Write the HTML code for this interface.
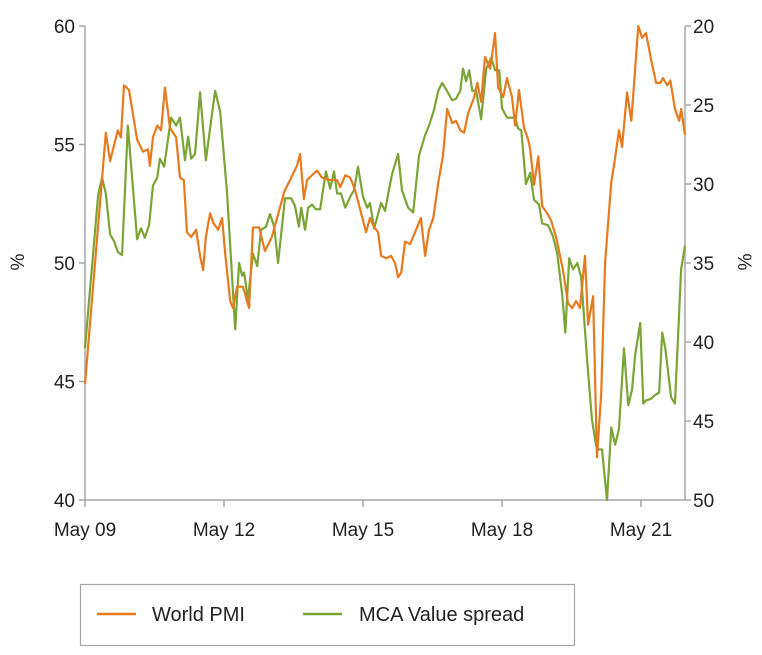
<!DOCTYPE html>
<html><head><meta charset="utf-8"><style>
body{margin:0;background:#fff;}
svg{display:block;font-family:"Liberation Sans",sans-serif;}
</style></head><body>
<svg id="chart" width="762" height="655"></svg>
<script>
const pmiMonths=[0,5.4,6.5,8.5,9.3,10.1,11.4,13.5,15,16.3,16.8,17.6,18.7,19.7,20.7,22,23.6,24.6,25.6,26.4,27.5,28.8,29.8,30.6,31.3,32.4,33.2,34.5,35.5,36.3,37.6,38.3,39.4,40.9,42.5,43.5,45.1,46.6,48.4,51.6,54.9,55.7,56.7,57.5,60.1,61.4,63.5,65.3,66.1,67.4,68.7,69.9,71.2,72.8,73.8,74.9,75.9,76.7,78,79.3,80.3,81.1,81.9,82.9,84.2,85.5,87,88.1,89.1,90.2,91.5,92.7,93.8,95.1,96.1,97.2,98.2,99.2,100.8,101.6,102.6,103.6,104.9,105.4,106.2,107,108.3,109.3,110.6,111.4,112.4,113.7,114.8,115.3,116.3,117.4,118.4,119.7,120.7,122,123.8,125.1,126.2,127.2,128.2,129.5,130.3,131.6,132.6,133.7,134.7,136.3,137,138.3,139.1,140.4,141.5,143.3,144.3,145.3,146.6,147.9,149,149.7,150.8,151.6,152.8,153.9,154.4,155.4];
const pmiValues=[44.9,55.5,54.3,55.6,55.3,57.5,57.3,55.2,54.7,54.8,54.1,55.3,55.8,55.6,57.4,55.7,55.3,53.6,53.5,51.3,51.1,51.4,50.3,49.7,51.1,52.1,51.7,51.4,51.9,50.4,48.4,48.1,49.0,49.0,48.1,51.5,51.5,50.5,51.1,53.0,54.1,54.6,52.7,53.5,53.9,53.6,53.5,53.5,53.2,53.7,53.6,53.1,52.3,51.3,51.9,51.5,51.3,50.3,50.2,50.3,50.0,49.4,49.6,50.9,50.8,51.3,51.9,50.3,51.4,51.9,53.4,54.5,56.5,55.9,56.0,55.6,55.5,56.3,57.0,57.6,56.8,58.7,58.2,58.7,59.7,57.4,57.0,57.8,57.0,55.8,57.3,55.7,55.2,54.8,53.3,54.5,52.4,52.1,51.8,51.1,49.7,48.3,48.1,48.4,48.1,50.3,47.4,48.6,41.8,44.5,50.0,53.4,54.1,55.6,54.9,57.2,56.0,60.0,59.5,59.7,58.6,57.6,57.6,57.8,57.5,57.7,56.5,56.0,56.5,55.4];
const spreadMonths=[0,3.4,4.4,5.4,6.5,7.5,8.5,9.6,11.1,13.5,14.5,15.5,16.6,17.6,18.7,19.4,20.5,22.3,23.6,24.6,25.9,26.7,27.5,28.5,29.8,31.3,33.7,35,36.8,38.9,39.9,40.7,41.2,42.2,43.5,44.6,45.6,46.9,47.9,49,50,51.8,53.4,54.4,55.4,56,57,57.8,58.8,59.8,60.9,62.4,63.5,64.5,65.3,66.3,67.4,68.9,69.7,70.7,72,73.1,73.8,74.9,76.7,77.7,79.5,81.1,82.1,83.7,85,86.5,88.1,89.1,90.4,91.5,92.5,93.5,95.1,96.1,97.2,97.9,98.7,99.5,100.3,101.3,102.6,103.9,105.2,106.2,107.3,108,109.3,111.4,112.2,113,114.2,115.3,116.3,117.6,118.4,119.9,121.2,122.3,123.6,124.4,125.4,126.4,127.5,128.5,130.1,131.3,132.4,132.9,133.9,135.2,136.3,137.3,138.3,139.6,140.7,141.7,142.5,143.8,144.6,145.3,146.6,147.4,148.7,149.5,150.3,151.8,152.8,154.4,155.4];
const spreadValues=[40.4,30.7,29.6,30.6,33.2,33.6,34.3,34.5,26.3,33.5,32.8,33.4,32.6,30.1,29.6,28.4,28.9,25.8,26.3,25.8,28.5,27.0,28.4,28.1,24.2,28.5,24.1,25.4,30.6,39.2,35.0,35.8,35.6,37.3,34.4,35.2,32.9,32.7,31.9,32.7,35.0,30.9,30.9,31.4,32.7,31.5,32.9,31.5,31.3,31.6,31.6,29.2,30.3,29.2,30.6,30.6,31.5,30.7,30.4,28.9,30.8,31.5,31.2,32.8,31.2,31.7,29.4,28.1,30.4,31.5,31.8,28.2,26.9,26.3,25.3,24.1,23.6,24.0,24.7,24.6,24.1,22.7,23.5,22.8,24.1,24.1,25.9,22.7,22.0,22.8,22.8,25.2,25.8,25.8,26.5,26.6,30.0,29.3,31.0,31.3,32.5,32.6,33.3,34.4,37.0,39.4,34.7,35.4,35.0,35.9,41.3,44.9,46.6,46.8,46.8,50.0,45.4,46.5,45.5,40.4,44.0,43.0,40.8,38.8,43.9,43.7,43.6,43.4,43.2,39.4,40.4,43.5,43.9,35.4,33.9];
const leftTicks=[40,45,50,55,60];
const rightTicks=[20,25,30,35,40,45,50];
const xTickLabels=["May 09","May 12","May 15","May 18","May 21"];
const xTickMonths=[0,36,72,108,144];

const NS="http://www.w3.org/2000/svg";
const svg=document.getElementById('chart');
const L=85,R=685,T=26,B=500;
const xS=m=>L+m*(R-L)/155.4;
const yL=v=>B-(v-40)*(B-T)/20;
const yR=v=>T+(v-20)*(B-T)/30;
function mk(tag,attrs,parent){const e=document.createElementNS(NS,tag);for(const k in attrs)e.setAttribute(k,attrs[k]);(parent||svg).appendChild(e);return e;}
const axisC="#a6a6a6",txtC="#222";
let e;
e=mk('line',{x1:L,y1:T,x2:L,y2:B,stroke:axisC,'stroke-width':1.5});


e=mk('line',{x1:R,y1:T,x2:R,y2:B,stroke:axisC,'stroke-width':1.5});


e=mk('line',{x1:L,y1:B,x2:R,y2:B,stroke:axisC,'stroke-width':1.5});


leftTicks.forEach(v=>{
  mk('line',{x1:L-6,y1:yL(v),x2:L,y2:yL(v),stroke:axisC,'stroke-width':1.5});
  const t=mk('text',{x:L-10,y:yL(v)+7,'text-anchor':'end','font-size':19,fill:txtC});
  t.textContent=v;
  
  
});
rightTicks.forEach(v=>{
  mk('line',{x1:R,y1:yR(v),x2:R+6,y2:yR(v),stroke:axisC,'stroke-width':1.5});
  const t=mk('text',{x:R+8,y:yR(v)+7,'font-size':19,fill:txtC});
  t.textContent=v;
  
  
});
xTickMonths.forEach((m,i)=>{
  mk('line',{x1:xS(m),y1:B,x2:xS(m),y2:B+7,stroke:axisC,'stroke-width':1.5});
  const t=mk('text',{x:xS(m),y:B+36,'text-anchor':'middle','font-size':19,fill:txtC});
  t.textContent=xTickLabels[i];
  
  
});
e=mk('text',{x:0,y:0,'font-size':19,fill:txtC,'text-anchor':'middle',transform:'translate(24,262) rotate(-90)'});
e.textContent='%';


e=mk('text',{x:0,y:0,'font-size':19,fill:txtC,'text-anchor':'middle',transform:'translate(738,262) rotate(90)'});
e.textContent='%';



e=mk('polyline',{points:spreadMonths.map((m,i)=>xS(m)+','+yR(spreadValues[i])).join(' '),fill:'none',stroke:'#7aa535','stroke-width':2.2,'stroke-linejoin':'round'});


e=mk('polyline',{points:pmiMonths.map((m,i)=>xS(m)+','+yL(pmiValues[i])).join(' '),fill:'none',stroke:'#e87a1e','stroke-width':2.2,'stroke-linejoin':'round'});



const lg=mk('g',{});


mk('rect',{x:80.5,y:584.5,width:494,height:61,fill:'#fff',stroke:'#a6a6a6','stroke-width':1.2},lg);
e=mk('line',{x1:97,y1:614,x2:136,y2:614,stroke:'#e87a1e','stroke-width':2.5},lg);


e=mk('text',{x:152,y:621,'font-size':20,fill:txtC},lg);
e.textContent='World PMI';


e=mk('line',{x1:303,y1:614,x2:342,y2:614,stroke:'#7aa535','stroke-width':2.5},lg);


e=mk('text',{x:359,y:621,'font-size':20,fill:txtC},lg);
e.textContent='MCA Value spread';


</script>
</body></html>
